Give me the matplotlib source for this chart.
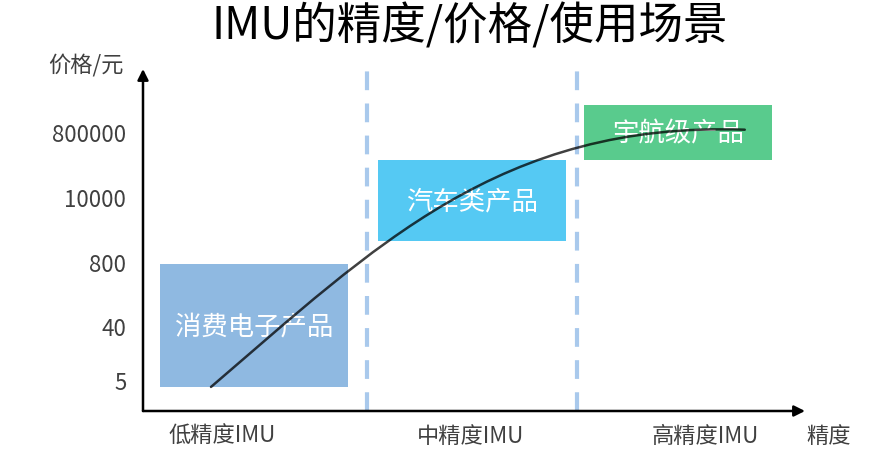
import matplotlib
matplotlib.use("Agg")
import matplotlib.pyplot as plt
from matplotlib.patches import Rectangle, PathPatch
from matplotlib.path import Path

plt.rcParams['font.family'] = ['Noto Sans CJK SC', 'DejaVu Sans']

# ---- data ----
title = "IMU的精度/价格/使用场景"
y_labels = ["5", "40", "800", "10000", "800000"]
y_pos = [0.17, 1.0, 1.98, 2.98, 3.98]
x_labels = ["低精度IMU", "中精度IMU", "高精度IMU"]
x_pos = [1.19, 4.95, 8.49]
divider_x = [3.38, 6.56]

box_names = ["消费电子产品", "汽车类产品", "宇航级产品"]
box_x0 = [0.257, 3.55, 6.66]
box_x1 = [3.097, 6.39, 9.50]
box_y0 = [0.062, 2.308, 3.554]
box_y1 = [1.954, 3.554, 4.40]
box_colors = ["#8FB9E1", "#55C9F3", "#59CB8D"]

# trend curve: start, two control points, end (cubic Bezier)
curve_x = [1.027, 3.5, 5.4, 9.09]
curve_y = [0.062, 2.22, 4.15, 4.02]

# ---- figure ----
fig = plt.figure(figsize=(8.94, 4.60), dpi=100)
ax = fig.add_axes([143/894, 1-412/460, 662/894, 342/460])
ax.set_xlim(0, 10)
ax.set_ylim(-0.308, 4.954)
for s in ax.spines.values():
    s.set_visible(False)

# boxes
for name, x0, x1, y0, y1, c in zip(box_names, box_x0, box_x1, box_y0, box_y1, box_colors):
    ax.add_patch(Rectangle((x0, y0), x1 - x0, y1 - y0, facecolor=c, edgecolor='none', zorder=1))
    ax.text((x0 + x1) / 2, (y0 + y1) / 2, name, color='white', fontsize=19,
            ha='center', va='center', zorder=3)

# dashed dividers
for dx in divider_x:
    ax.plot([dx, dx], [-0.308, 4.954], color='#A9C9EC', lw=3, dashes=(4.5, 3.2),
            solid_capstyle='butt', dash_capstyle='butt', zorder=2)

# curve
verts = list(zip(curve_x, curve_y))
path = Path(verts, [Path.MOVETO, Path.CURVE4, Path.CURVE4, Path.CURVE4])
ax.add_patch(PathPatch(path, facecolor='none', edgecolor='black', lw=1.8,
                       alpha=0.75, zorder=4, capstyle='round'))

# axes arrows
arrow = dict(arrowstyle='-|>', mutation_scale=16, lw=1.8, color='black',
             shrinkA=0, shrinkB=0)
ax.annotate('', xy=(0, 1), xytext=(0, 0), xycoords='axes fraction',
            textcoords='axes fraction', arrowprops=arrow, zorder=5)
ax.annotate('', xy=(1, 0), xytext=(0, 0), xycoords='axes fraction',
            textcoords='axes fraction', arrowprops=arrow, zorder=5)

# ticks
ax.set_yticks(y_pos)
ax.set_yticklabels(y_labels, fontsize=16, color='#404040')
ax.set_xticks(x_pos)
ax.set_xticklabels(x_labels, fontsize=16, color='#404040')
ax.tick_params(axis='y', length=0, pad=12)
ax.tick_params(axis='x', length=0, pad=9)

# axis labels
ax.text(-0.086, 1.015, "价格/元", transform=ax.transAxes, fontsize=16,
        color='#404040', ha='center', va='center')
ax.text(1.036, -0.073, "精度", transform=ax.transAxes, fontsize=16,
        color='#404040', ha='center', va='center')

fig.text(0.526, 0.942, title, fontsize=32, color='black', ha='center', va='center')

fig.savefig("out.png", dpi=100)
